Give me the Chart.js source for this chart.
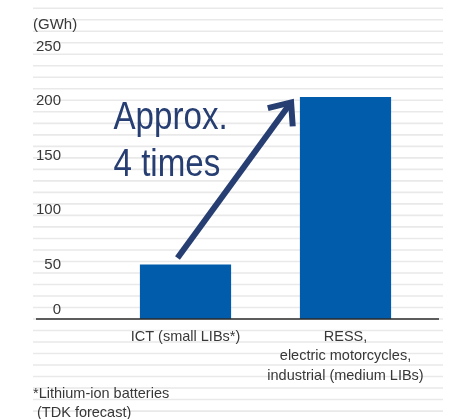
<!DOCTYPE html>
<html>
<head>
<meta charset="utf-8">
<script src="https://cdn.jsdelivr.net/npm/chart.js@4/dist/chart.umd.min.js"></script>
<style>
  html, body { margin: 0; padding: 0; background: #fff; }
  #wrap { width: 449px; height: 419px; }
</style>
</head>
<body>
<div id="wrap"><canvas id="chart"></canvas></div>
<script>
const categories = ['ICT (small LIBs*)', ['RESS,', 'electric motorcycles,', 'industrial (medium LIBs)']];
const capacity = [50, 204];
const yTicks = [0, 50, 100, 150, 200, 250];
const unitLabel = '(GWh)';
const footnote = ['*Lithium-ion batteries', ' (TDK forecast)'];
const calloutLines = ['Approx.', '4 times'];

// arrow + callout, in data units: [category index, GWh]
const arrowFrom = [-0.05, 56];
const arrowTo = [0.66, 199];
const calloutAt = [-0.45, 174.5];
const calloutStep = 43;

const textColor = '#383838';
const barColor = '#015cab';
const arrowColor = '#263e72';

Chart.defaults.font.family = "'Liberation Sans', Arial, sans-serif";

// light stripes behind everything + the base line
const backdrop = {
  id: 'backdrop',
  beforeDraw(chart) {
    const { ctx } = chart;
    const base = chart.scales.y.getPixelForValue(0);
    ctx.save();
    ctx.strokeStyle = '#e9e9e9';
    ctx.lineWidth = 1.6;
    for (let k = -8; k <= 27; k++) {
      const yy = base - k * 11.51;
      ctx.beginPath();
      ctx.moveTo(33, yy);
      ctx.lineTo(443, yy);
      ctx.stroke();
    }
    ctx.restore();
  },
  afterDatasetsDraw(chart) {
    const { ctx } = chart;
    const base = chart.scales.y.getPixelForValue(0);
    ctx.save();
    ctx.strokeStyle = '#2b2b2b';
    ctx.lineWidth = 1.5;
    ctx.beginPath();
    ctx.moveTo(36, base);
    ctx.lineTo(439, base);
    ctx.stroke();
    ctx.restore();
  }
};

const callout = {
  id: 'callout',
  afterDatasetsDraw(chart) {
    const { ctx } = chart;
    const x = chart.scales.x, y = chart.scales.y;
    const x0 = x.getPixelForValue(arrowFrom[0]), y0 = y.getPixelForValue(arrowFrom[1]);
    const x1 = x.getPixelForValue(arrowTo[0]), y1 = y.getPixelForValue(arrowTo[1]);
    const ang = Math.atan2(y1 - y0, x1 - x0);
    const back = ang + Math.PI;
    const wing = 24, spread = 40 * Math.PI / 180;

    ctx.save();
    ctx.strokeStyle = arrowColor;
    ctx.lineWidth = 6;
    ctx.lineCap = 'butt';
    ctx.beginPath();
    ctx.moveTo(x0, y0);
    ctx.lineTo(x1 - Math.cos(ang) * 3, y1 - Math.sin(ang) * 3);
    ctx.stroke();
    ctx.lineJoin = 'miter';
    ctx.beginPath();
    ctx.moveTo(x1 + Math.cos(back + spread) * wing, y1 + Math.sin(back + spread) * wing);
    ctx.lineTo(x1, y1);
    ctx.lineTo(x1 + Math.cos(back - spread) * wing, y1 + Math.sin(back - spread) * wing);
    ctx.stroke();

    // condensed look for the big label
    ctx.fillStyle = arrowColor;
    ctx.font = "39px 'Liberation Sans', Arial, sans-serif";
    ctx.textBaseline = 'alphabetic';
    ctx.textAlign = 'left';
    calloutLines.forEach((t, i) => {
      const tx = x.getPixelForValue(calloutAt[0]);
      const ty = y.getPixelForValue(calloutAt[1] - i * calloutStep);
      ctx.save();
      ctx.translate(tx, ty);
      ctx.scale(0.85, 1);
      ctx.fillText(t, 0, 0);
      ctx.restore();
    });
    ctx.restore();
  }
};

new Chart(document.getElementById('chart'), {
  type: 'bar',
  data: {
    labels: categories,
    datasets: [{
      data: capacity,
      backgroundColor: barColor,
      barPercentage: 0.95,
      categoryPercentage: 0.6
    }]
  },
  options: {
    responsive: true,
    maintainAspectRatio: false,
    animation: false,
    layout: { padding: { left: 33, right: 23.5, top: 16, bottom: 0 } },
    plugins: {
      legend: { display: false },
      tooltip: { enabled: false },
      title: {
        display: true,
        text: unitLabel,
        align: 'start',
        color: textColor,
        font: { size: 15, weight: 'normal', lineHeight: 1.2 },
        padding: { top: 0, bottom: 2 }
      },
      subtitle: {
        display: true,
        position: 'bottom',
        align: 'start',
        text: footnote,
        color: textColor,
        font: { size: 14.5, weight: 'normal', lineHeight: 19 / 14.5 },
        padding: { top: 0, bottom: -3 }
      }
    },
    scales: {
      x: {
        grid: { display: false, drawTicks: false, tickLength: 0 },
        border: { display: false },
        ticks: {
          color: textColor,
          font: { size: 14.5, lineHeight: 1.35 },
          padding: 8,
          maxRotation: 0,
          autoSkip: false
        },
        afterFit: (s) => { s.height = 65; }
      },
      y: {
        min: 0,
        max: 260,
        grid: { display: false, drawTicks: false, tickLength: 0 },
        border: { display: false },
        afterBuildTicks: (s) => { s.ticks = yTicks.map(v => ({ value: v })); },
        ticks: {
          color: textColor,
          font: { size: 15, lineHeight: 1.2 },
          padding: 44.5,
          // zero sits just above the base line
          callback: (v) => v === 0 ? ['0', ''] : v
        },
        afterFit: (s) => {
          s.width = 72.5;
          s.paddingTop = 0;
          s.paddingBottom = 0;
        }
      }
    }
  },
  plugins: [backdrop, callout]
});
</script>
</body>
</html>
